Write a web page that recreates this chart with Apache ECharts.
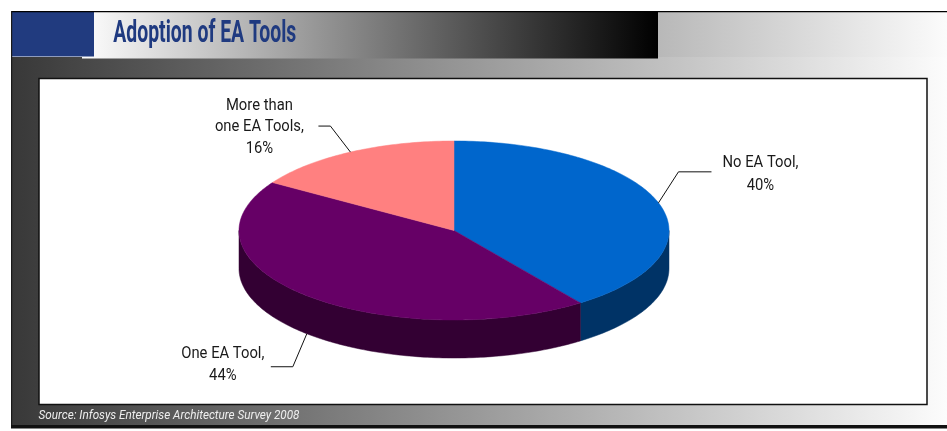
<!DOCTYPE html>
<html>
<head>
<meta charset="utf-8">
<script src="https://cdn.jsdelivr.net/npm/echarts@6/dist/echarts.min.js"></script>
<style>
  html, body { margin: 0; padding: 0; background: #ffffff; }
  #chart { width: 947px; height: 431px; }
</style>
</head>
<body>
<div id="chart"></div>
<script>
// Survey shares, listed clockwise from 12 o'clock
const categories = ['No EA Tool', 'One EA Tool', 'More than\none EA Tools'];
const shares = [40, 44, 16];
const topColors = ['#0066cc', '#660066', '#ff8080'];
const sideColors = ['#003366', '#330033', '#804040'];
const titleText = 'Adoption of EA Tools';
const sourceText = 'Source: Infosys Enterprise Architecture Survey 2008';

// Tilted pie: ellipse centre, radii and wall height in pixels
const PIE = { cx: 454, cy: 230.5, rx: 215, ry: 89.5, depth: 38 };

// Leader lines: elbow offset from the slice anchor, horizontal run, text offset
const LEADERS = [
  { ex: 20, ey: -31, run: 33, tx: 49, ty: 2.5, lh: 22.4 },
  { ex: -14, ey: 33, run: -22, tx: -48, ty: -2, lh: 21.7 },
  { ex: -20, ey: -26, run: -12, tx: -59, ty: 1, lh: 21.3 }
];

const FONT_FAMILY = 'Roboto';

// Condense a font horizontally so a sample string spans a given width
const measureCtx = document.createElement('canvas').getContext('2d');
function fitScale(text, font, width) {
  measureCtx.font = font;
  return width / measureCtx.measureText(text).width;
}
const TITLE_SCALE = fitScale(titleText, 'bold 31px ' + FONT_FAMILY, 183);
const LABEL_SCALE = fitScale('one EA Tools,', '17px ' + FONT_FAMILY, 89);
const SOURCE_SCALE = fitScale(sourceText, 'italic 13px ' + FONT_FAMILY, 261);

const total = shares.reduce((a, b) => a + b, 0);
const starts = [];
shares.reduce((acc, v, i) => { starts[i] = acc; return acc + v; }, 0);
const seriesData = shares.map((v, i) => ({ name: categories[i], value: [v, starts[i]] }));

function pt(a, dy) {
  return [PIE.cx + PIE.rx * Math.sin(a), PIE.cy - PIE.ry * Math.cos(a) + (dy || 0)];
}
function arc(a0, a1, dy) {
  const n = Math.max(2, Math.ceil((a1 - a0) / (Math.PI / 180)));
  const out = [];
  for (let k = 0; k <= n; k++) out.push(pt(a0 + (a1 - a0) * k / n, dy));
  return out;
}

function renderSlice(params, api) {
  const i = params.dataIndex;
  const v = api.value(0);
  const s = api.value(1);
  const a0 = s / total * 2 * Math.PI;
  const a1 = (s + v) / total * 2 * Math.PI;
  const children = [];

  // outer wall, only the part facing the viewer
  const lo = Math.max(a0, Math.PI / 2);
  const hi = Math.min(a1, 3 * Math.PI / 2);
  if (hi > lo) {
    const upper = arc(lo, hi, 0);
    const lower = arc(lo, hi, PIE.depth).reverse();
    children.push({
      type: 'polygon',
      shape: { points: upper.concat(lower) },
      style: { fill: sideColors[i], stroke: sideColors[i], lineWidth: 0.5 }
    });
  }

  // top face
  children.push({
    type: 'polygon',
    shape: { points: [[PIE.cx, PIE.cy]].concat(arc(a0, a1, 0)) },
    style: { fill: topColors[i], stroke: topColors[i], lineWidth: 0.5 }
  });

  // leader line and label
  const mid = (a0 + a1) / 2;
  const front = Math.cos(mid) < 0;
  const A = pt(mid, front ? PIE.depth : 0);
  const L = LEADERS[i];
  const B = [A[0] + L.ex, A[1] + L.ey];
  const C = [B[0] + L.run, B[1]];
  children.push({
    type: 'polyline',
    shape: { points: [A, B, C] },
    style: { stroke: '#111111', lineWidth: 1, fill: null }
  });
  children.push({
    type: 'text',
    x: C[0] + L.tx,
    y: C[1] + L.ty,
    scaleX: LABEL_SCALE,
    style: {
      text: categories[i] + ',\n' + v + '%',
      fill: '#1a1a1a',
      fontFamily: FONT_FAMILY,
      fontSize: 17,
      align: 'center',
      verticalAlign: 'middle',
      lineHeight: L.lh
    }
  });
  return { type: 'group', children: children };
}

const chart = echarts.init(document.getElementById('chart'));
chart.setOption({
  animation: false,
  graphic: {
    elements: [
      // lower frame band
      {
        type: 'rect', shape: { x: 11, y: 57, width: 936, height: 370 },
        style: { fill: { type: 'linear', x: 0, y: 0, x2: 1, y2: 0,
          colorStops: [{ offset: 0, color: '#383838' }, { offset: 1, color: '#fcfcfc' }] } }
      },
      // heading band, right part
      {
        type: 'rect', shape: { x: 658, y: 12, width: 289, height: 45 },
        style: { fill: { type: 'linear', x: 0, y: 0, x2: 1, y2: 0,
          colorStops: [{ offset: 0, color: '#b8b8b8' }, { offset: 1, color: '#fbfbfb' }] } }
      },
      // heading band behind the title
      {
        type: 'rect', shape: { x: 82, y: 12, width: 576, height: 46.5 },
        style: { fill: { type: 'linear', x: 0, y: 0, x2: 1, y2: 0,
          colorStops: [{ offset: 0, color: '#fdfdfd' }, { offset: 0.03, color: '#f6f6f6' }, { offset: 1, color: '#000000' }] } }
      },
      // blue corner block
      { type: 'rect', shape: { x: 11, y: 12, width: 83, height: 44.5 }, style: { fill: '#213b7f' } },
      // frame lines
      { type: 'rect', shape: { x: 11, y: 11, width: 936, height: 1.2 }, style: { fill: '#000000' } },
      { type: 'rect', shape: { x: 11, y: 11, width: 1.2, height: 417 }, style: { fill: '#1a1a1a' } },
      { type: 'rect', shape: { x: 11, y: 425, width: 936, height: 3.5 }, style: { fill: '#111111' } },
      // plot panel
      {
        type: 'rect', shape: { x: 39, y: 78.5, width: 888, height: 326 },
        style: { fill: '#ffffff', stroke: '#111111', lineWidth: 1.5 }
      },
      // title
      {
        type: 'text', x: 113.3, y: 34, scaleX: TITLE_SCALE,
        style: {
          text: titleText, fill: '#1f3a80', fontFamily: FONT_FAMILY,
          fontSize: 31, fontWeight: 'bold', align: 'left', verticalAlign: 'middle'
        }
      },
      // source note
      {
        type: 'text', x: 38.5, y: 415.5, scaleX: SOURCE_SCALE,
        style: {
          text: sourceText, fill: '#eeeeee', fontFamily: FONT_FAMILY,
          fontSize: 13, fontStyle: 'italic', align: 'left', verticalAlign: 'middle'
        }
      }
    ]
  },
  series: [{
    type: 'custom',
    coordinateSystem: 'none',
    z: 10,
    silent: true,
    renderItem: renderSlice,
    data: seriesData
  }]
});
</script>
</body>
</html>
